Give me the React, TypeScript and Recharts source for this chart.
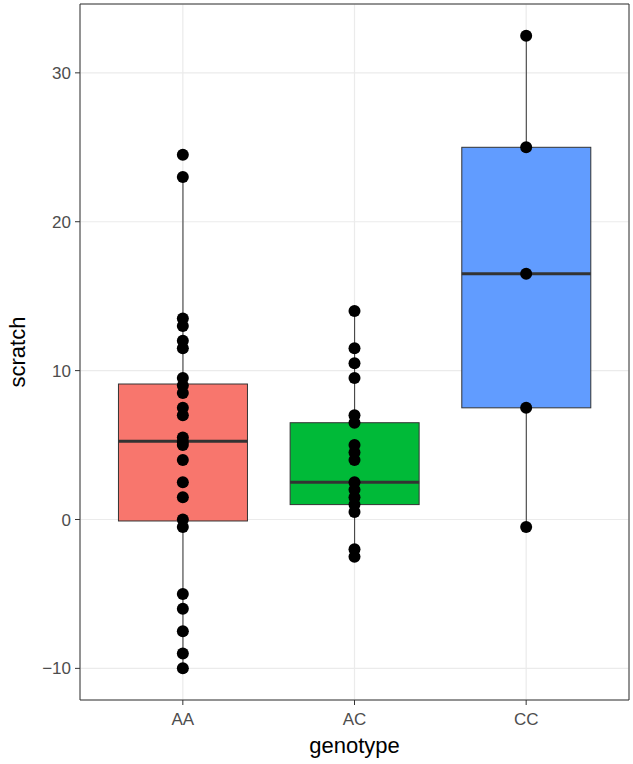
import {
  ComposedChart,
  Bar,
  Scatter,
  XAxis,
  YAxis,
  CartesianGrid,
} from 'recharts';

const genotypes = ['AA', 'AC', 'CC'];
const boxColors = ['#F8766D', '#00BA38', '#619CFF'];

// box stats: lower whisker, q1, median, q3, upper whisker
const whiskerLow = [-10, -2.5, -0.5];
const q1 = [-0.1, 1, 7.5];
const median = [5.25, 2.5, 16.5];
const q3 = [9.1, 6.5, 25];
const whiskerHigh = [23, 14, 32.5];

// raw observations per genotype
const aaScratch = [24.5, 23, 13.5, 13, 12, 11.5, 9.5, 9, 8.5, 7.5, 7, 5.5, 5.2, 5, 4, 2.5, 1.5, 0, -0.5, -5, -6, -7.5, -9, -10];
const acScratch = [14, 11.5, 10.5, 9.5, 7, 6.5, 5, 4.5, 4, 2.5, 2, 1.5, 1, 0.5, -2, -2.5];
const ccScratch = [32.5, 25, 16.5, 7.5, -0.5];

const yTicks = [-10, 0, 10, 20, 30];
const yMinor = [-5, 5, 15, 25];
const yDomain: [number, number] = [-12.125, 34.625];

const boxData = genotypes.map((g, i) => ({
  genotype: g,
  box: [q1[i], q3[i]],
  lo: whiskerLow[i],
  q1: q1[i],
  med: median[i],
  q3: q3[i],
  hi: whiskerHigh[i],
  color: boxColors[i],
}));

const pointData = [
  ...aaScratch.map((v) => ({ genotype: 'AA', scratch: v })),
  ...acScratch.map((v) => ({ genotype: 'AC', scratch: v })),
  ...ccScratch.map((v) => ({ genotype: 'CC', scratch: v })),
];

const FONT = '"Liberation Sans", Arial, sans-serif';
const BORDER = '#333333';

const BoxShape = (props: any) => {
  const { x, y, width, height, payload } = props;
  const p = payload;
  const ppu = height / (p.q3 - p.q1);
  const cx = x + width / 2;
  const yHi = y - (p.hi - p.q3) * ppu;
  const yLo = y + height + (p.q1 - p.lo) * ppu;
  const yMed = y + (p.q3 - p.med) * ppu;
  return (
    <g>
      <line x1={cx} x2={cx} y1={yHi} y2={y} stroke={BORDER} strokeWidth={1} />
      <line x1={cx} x2={cx} y1={y + height} y2={yLo} stroke={BORDER} strokeWidth={1} />
      <rect x={x} y={y} width={width} height={height} fill={p.color} stroke={BORDER} strokeWidth={1} />
      <line x1={x} x2={x + width} y1={yMed} y2={yMed} stroke={BORDER} strokeWidth={3} />
    </g>
  );
};

const Dot = (props: any) => {
  const { cx, cy } = props;
  return <circle cx={cx} cy={cy} r={6} fill="#000000" />;
};

const App = () => {
  return (
    <div style={{ position: 'absolute', left: 0, top: 0, width: 633, height: 764, fontFamily: FONT }}>
      <ComposedChart
        width={633}
        height={764}
        data={boxData}
        margin={{ top: 3, right: 3, bottom: 0, left: 0 }}
        barCategoryGap="12.5%"
        style={{ fontFamily: FONT }}
      >
        <CartesianGrid yAxisId="minor" stroke="#F0F0F0" strokeWidth={0.7} vertical={false} />
        <CartesianGrid stroke="#EBEBEB" strokeWidth={1.2} />
        <XAxis
          dataKey="genotype"
          type="category"
          allowDuplicatedCategory={false}
          padding={{ left: 17, right: 17 }}
          height={64}
          tickSize={5}
          tickMargin={8}
          axisLine={{ stroke: BORDER }}
          tickLine={{ stroke: BORDER }}
          tick={{ fill: '#4D4D4D', fontSize: 17, fontFamily: FONT }}
          label={{ value: 'genotype', position: 'insideBottom', offset: 11, fill: '#000000', fontSize: 22, fontFamily: FONT }}
        />
        <XAxis
          xAxisId="top"
          orientation="top"
          dataKey="genotype"
          type="category"
          allowDuplicatedCategory={false}
          height={1}
          tick={false}
          tickLine={false}
          axisLine={{ stroke: BORDER }}
        />
        <YAxis
          type="number"
          domain={yDomain}
          allowDataOverflow
          ticks={yTicks}
          width={80}
          tickSize={5}
          tickMargin={4}
          axisLine={{ stroke: BORDER }}
          tickLine={{ stroke: BORDER }}
          tick={{ fill: '#4D4D4D', fontSize: 17, fontFamily: FONT }}
          tickFormatter={(v: number) => String(v).replace('-', '\u2212')}
          label={{ value: 'scratch', angle: -90, position: 'insideLeft', offset: 17, fill: '#000000', fontSize: 22, fontFamily: FONT, style: { textAnchor: 'middle' } }}
        />
        <YAxis
          yAxisId="minor"
          orientation="right"
          type="number"
          domain={yDomain}
          allowDataOverflow
          ticks={yMinor}
          width={1}
          tick={false}
          tickLine={false}
          axisLine={{ stroke: BORDER }}
        />
        <Bar dataKey="box" shape={<BoxShape />} isAnimationActive={false} />
        <Scatter data={pointData} dataKey="scratch" shape={<Dot />} isAnimationActive={false} />
      </ComposedChart>
    </div>
  );
};

export default App;
